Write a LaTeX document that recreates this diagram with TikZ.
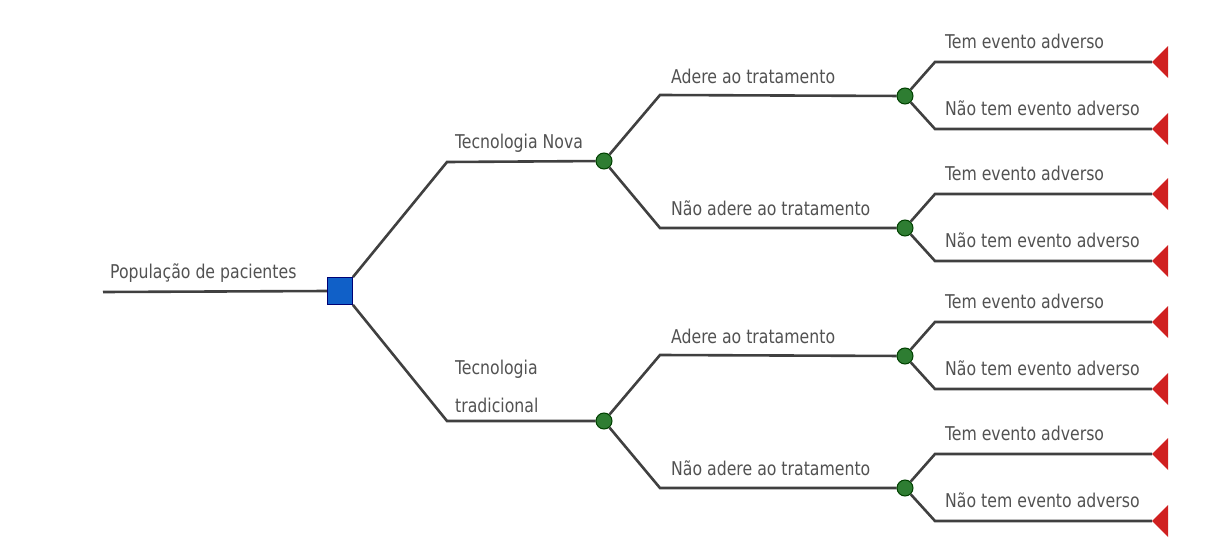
\documentclass[tikz,border=0pt]{standalone}
\usepackage{fontspec}
\setmainfont[FakeStretch=0.92]{DejaVu Sans Condensed}
\pgfdeclarelayer{bg}
\pgfsetlayers{bg,main}
\begin{document}
\begin{tikzpicture}[x=1pt,y=-1pt,
  edge/.style={draw=black!75,line width=2.6pt},
  lbl/.style={anchor=base west,inner sep=0pt,text=black!68,font=\fontsize{19}{38}\selectfont},
  decision/.style={draw=blue!45!black,fill={rgb,255:red,16;green,96;blue,200},line width=0.8pt,minimum width=25pt,minimum height=27pt,inner sep=0pt},
  chance/.style={circle,draw=green!25!black,fill={rgb,255:red,46;green,125;blue,50},line width=1pt,minimum size=16pt,inner sep=0pt},
  term/.style={fill={rgb,255:red,208;green,32;blue,32}}
]
\useasboundingbox (0,0) rectangle (1211,538);
% nodes
\coordinate (r0) at (103,292);
\node[decision] (d0) at (340,291) {};
\coordinate (b1) at (447,162);
\coordinate (b2) at (447,421);
\node[chance] (c1) at (604,161) {};
\node[chance] (c2) at (604,421) {};
\coordinate (b11) at (660,95);
\coordinate (b12) at (660,228);
\coordinate (b21) at (660,355);
\coordinate (b22) at (660,488);
\node[chance] (c11) at (905,96) {};
\node[chance] (c12) at (905,228) {};
\node[chance] (c21) at (905,356) {};
\node[chance] (c22) at (905,488) {};
\foreach \n/\y in {11/96,12/228,21/356,22/488}{
  \coordinate (e\n a) at (935,\y-34);
  \coordinate (e\n b) at (935,\y+33);
  \coordinate (t\n a) at (1152,\y-34);
  \coordinate (t\n b) at (1152,\y+33);
}
% edges
\begin{pgfonlayer}{bg}
\draw[edge] (r0) -- (d0.west);
\draw[edge] (d0.north east) -- (b1) -- (c1);
\draw[edge] (d0.south east) -- (b2) -- (c2);
\draw[edge] (c1) -- (b11) -- (c11);
\draw[edge] (c1) -- (b12) -- (c12);
\draw[edge] (c2) -- (b21) -- (c21);
\draw[edge] (c2) -- (b22) -- (c22);
\foreach \n in {11,12,21,22}{
  \draw[edge] (c\n) -- (e\n a) -- (t\n a);
  \draw[edge] (c\n) -- (e\n b) -- (t\n b);
}
\end{pgfonlayer}
\foreach \n in {11,12,21,22}{
  \fill[term] (t\n a) -- ++(16,-16) -- ++(0,32) -- cycle;
  \fill[term] (t\n b) -- ++(16,-16) -- ++(0,32) -- cycle;
}
% labels
\node[lbl] (l0) at (110,278) {População de pacientes};
\node[lbl] (l1) at (455,148) {Tecnologia Nova};
\node[lbl] (l2a) at (455,374) {Tecnologia};
\node[lbl] (l2b) at (455,412) {tradicional};
\node[lbl] (l11) at (671,83) {Adere ao tratamento};
\node[lbl] (l12) at (671,215) {Não adere ao tratamento};
\node[lbl] (l21) at (671,343) {Adere ao tratamento};
\node[lbl] (l22) at (671,475) {Não adere ao tratamento};
\foreach \n/\y in {11/96,12/228,21/356,22/488}{
  \node[lbl] at (945,\y-48) {Tem evento adverso};
  \node[lbl] at (945,\y+19) {Não tem evento adverso};
}
\end{tikzpicture}
\end{document}
